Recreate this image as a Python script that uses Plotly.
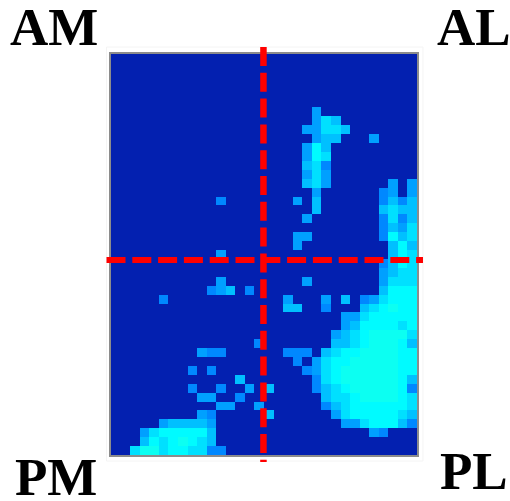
import plotly.graph_objects as go

W, H = 510, 501
L, R, T, B = 110.5, 417.0, 54.0, 455.0

LEVEL_COLORS = ["#0320b0", "#0088ff", "#00a0ff", "#00c0ff", "#00e0ff", "#00fbff", "#0cfff2"]
CORNERS = ["AM", "AL", "PM", "PL"]

ROWS = [
    "0000000000 0000000000 0000000000 00",
    "0000000000 0000000000 0000000000 00",
    "0000000000 0000000000 0000000000 00",
    "0000000000 0000000000 0000000000 00",
    "0000000000 0000000000 0000000000 00",
    "0000000000 0000000000 0000000000 00",
    "0000000000 0000000000 0200000000 00",
    "0000000000 0000000000 0243000000 00",
    "0000000000 0000000000 2244300000 00",
    "0000000000 0000000000 0233000200 00",
    "0000000000 0000000000 2530000000 00",
    "0000000000 0000000000 2540000000 00",
    "0000000000 0000000000 3410000000 00",
    "0000000000 0000000000 2420000000 00",
    "0000000000 0000000000 3420000002 02",
    "0000000000 0000000000 0200000012 02",
    "0000000000 0100000002 0300000013 13",
    "0000000000 0000000000 0300000034 33",
    "0000000000 0000000000 2000000014 13",
    "0000000000 0000000000 0000000013 24",
    "0000000000 0000000002 2000000015 34",
    "0000000000 0000000002 0000000003 53",
    "0000000000 0200000000 0000000003 54",
    "0000000000 0000000000 0000000013 54",
    "0000000000 0000000000 0000000023 44",
    "0000000000 0200000000 2000000024 44",
    "0000000000 1230100000 0000000035 55",
    "0000010000 0000000020 0020301245 55",
    "0000000000 0000000033 0010003456 55",
    "0000000000 0000000000 0000224555 55",
    "0000000000 0000000000 0000235555 45",
    "0000000000 0000000000 0002345666 64",
    "0000000000 0000010000 0003345666 53",
    "0000000002 1100000011 1034556666 55",
    "0000000000 0000000001 0245566666 55",
    "0000000010 1000000000 1245666666 55",
    "0000000000 0003000000 0145666666 53",
    "0000000010 0100203000 0134566666 51",
    "0000000002 2001000000 0034456666 54",
    "0000000000 0220020000 0013455555 54",
    "0000000002 1000003000 0002455555 43",
    "0000023333 2000000000 0000224555 31",
    "0002455555 3000000000 0000000210 00",
    "0003545654 3000000000 0000000000 00",
    "0046645544 1100000000 0000000000 00",
]

z = [[int(ch) for ch in row.replace(" ", "")] for row in ROWS]
n_lv = len(LEVEL_COLORS)
scale = []
for i, c in enumerate(LEVEL_COLORS):
    scale += [[i / n_lv, c], [(i + 1) / n_lv, c]]

fig = go.Figure(go.Heatmap(z=z, zmin=-0.5, zmax=n_lv - 0.5, colorscale=scale,
                           showscale=False, hoverinfo="skip", xgap=0, ygap=0))


def px(x):
    return (x - L) / (R - L)


def py(y):
    return (B - y) / (B - T)


DASH = "19px,6.8px"
shapes = [
    dict(type="rect", xref="paper", yref="paper", x0=px(106), x1=px(423), y0=py(47), y1=py(461),
         line=dict(color="#f4f4f4", width=1), layer="below"),
    dict(type="line", xref="paper", yref="paper", x0=px(263.2), x1=px(263.2), y0=py(47), y1=py(462),
         line=dict(color="#ff0000", width=6.5, dash=DASH)),
    dict(type="line", xref="paper", yref="paper", x0=px(106), x1=px(423), y0=py(260), y1=py(260),
         line=dict(color="#ff0000", width=6, dash=DASH)),
]

positions = [(53, 26.5), (474, 26.5), (55.5, 476.5), (474.5, 471)]
annots = [dict(text=t, xref="paper", yref="paper", x=px(x), y=py(y), showarrow=False,
               xanchor="center", yanchor="middle",
               font=dict(family="Liberation Serif", size=53, color="#000000", weight="bold"))
          for t, (x, y) in zip(CORNERS, positions)]

axis = dict(showgrid=False, zeroline=False, showticklabels=False, ticks="", showline=True,
            linecolor="#8c8c8c", linewidth=2, mirror=True)
fig.update_layout(
    width=W, height=H, autosize=False,
    margin=dict(l=L, r=W - R, t=T, b=H - B, pad=0),
    paper_bgcolor="#ffffff", plot_bgcolor=LEVEL_COLORS[0],
    xaxis=dict(axis, range=[-0.5, 31.5]),
    yaxis=dict(axis, range=[44.5, -0.5]),
    shapes=shapes, annotations=annots, showlegend=False,
)
fig.write_html("out.html", config=dict(displayModeBar=False),
               post_script="document.body.style.margin='0';document.documentElement.style.overflow='hidden';")
